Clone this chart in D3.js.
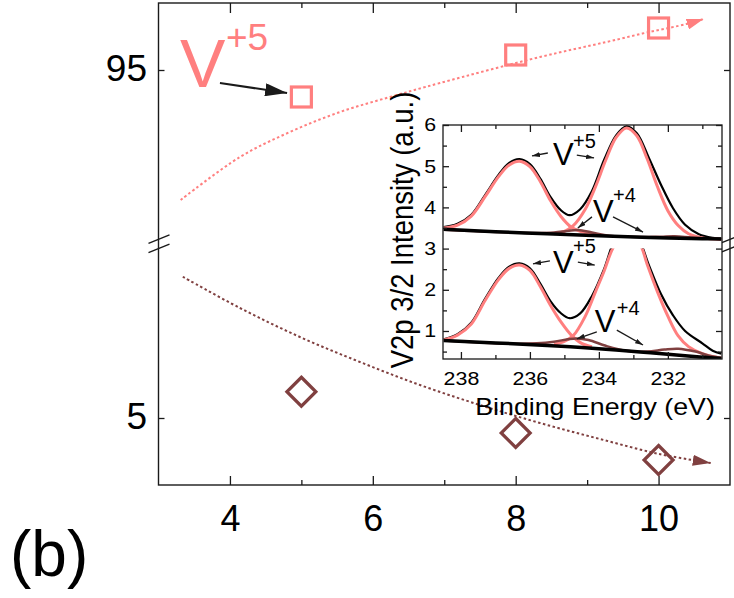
<!DOCTYPE html>
<html>
<head>
<meta charset="utf-8">
<script src="https://d3js.org/d3.v7.min.js"></script>
<style>
  body { margin: 0; background: #fff; }
  svg { display: block; font-family: "Liberation Sans", Arial, sans-serif; }
</style>
</head>
<body>
<svg id="chart" width="734" height="598"></svg>
<script>
// main panel: share of each vanadium state (%) for the three samples
const sampleX = [5, 8, 10];
const v5Share = [93.92, 95.6, 96.68];
const v4Share = [6.05, 4.4, 3.32];
const xMajorTicks = [4, 6, 8, 10];
const xMinorTicks = [5, 7, 9];
const v5Trend = [[3.31, 89.8], [4.14, 91.52], [4.84, 92.52], [5.54, 93.32], [6.24, 93.92], [6.94, 94.48],
  [8.34, 95.52], [9.27, 96.12], [9.87, 96.52], [10.39, 96.84], [10.63, 97.04]];
const v4Trend = [[3.34, 10.65], [4.14, 9.4], [4.98, 8.24], [5.82, 7.24], [6.66, 6.32], [7.5, 5.52],
  [8.34, 4.8], [9.18, 4.16], [10.01, 3.56], [10.73, 3.2]];

// inset: V2p 3/2 spectra (binding energy eV, intensity a.u.), upper one offset
const insetXTicks = [238, 236, 234, 232];
const insetYTicks = [1, 2, 3, 4, 5, 6];
const upperSum = [[238.5, 3.52], [238.1, 3.6], [237.7, 3.82], [237.3, 4.3], [236.9, 4.8], [236.6, 5.08], [236.3, 5.17],
  [236.0, 5.05], [235.7, 4.7], [235.4, 4.25], [235.1, 3.93], [234.85, 3.81], [234.55, 3.95], [234.2, 4.4],
  [233.85, 5.15], [233.5, 5.75], [233.2, 5.97], [232.9, 5.8], [232.55, 5.2], [232.2, 4.55], [231.85, 3.98],
  [231.5, 3.58], [231.1, 3.35], [230.7, 3.26], [230.45, 3.24]];
const upperV5a = [[238.5, 3.5], [238.1, 3.57], [237.7, 3.79], [237.3, 4.26], [236.9, 4.76], [236.6, 5.03], [236.3, 5.12],
  [236.0, 4.99], [235.7, 4.63], [235.4, 4.16], [235.1, 3.78], [234.8, 3.52], [234.5, 3.41], [234.2, 3.36]];
const upperV5b = [[235.3, 3.36], [235.0, 3.42], [234.75, 3.55], [234.4, 3.95], [234.1, 4.5], [233.8, 5.15],
  [233.5, 5.7], [233.2, 5.93], [232.9, 5.74], [232.6, 5.18], [232.3, 4.5], [232.0, 3.92], [231.7, 3.56],
  [231.4, 3.36], [231.0, 3.26], [230.45, 3.22]];
const upperV4 = [[238.5, 3.46], [236.0, 3.38], [235.3, 3.39], [234.9, 3.43], [234.6, 3.45], [234.2, 3.39],
  [233.7, 3.31], [232.8, 3.28], [232.2, 3.29], [231.8, 3.3], [231.3, 3.27], [230.45, 3.23]];
const upperBase = [[238.5, 3.47], [237.0, 3.41], [235.5, 3.36], [234.0, 3.31], [232.5, 3.27], [231.0, 3.24], [230.45, 3.23]];

const lowerSum = [[238.5, 0.8], [238.1, 0.92], [237.7, 1.2], [237.3, 1.78], [236.9, 2.3], [236.6, 2.56], [236.3, 2.64],
  [236.0, 2.52], [235.7, 2.15], [235.4, 1.72], [235.1, 1.43], [234.85, 1.31], [234.55, 1.42], [234.2, 1.85],
  [233.85, 2.5], [233.55, 3.2], [233.2, 3.6], [232.85, 3.25], [232.55, 2.6], [232.2, 1.9], [231.85, 1.38],
  [231.5, 1.0], [231.0, 0.7], [230.7, 0.52], [230.45, 0.45]];
const lowerV5a = [[238.5, 0.78], [238.1, 0.9], [237.7, 1.17], [237.3, 1.74], [236.9, 2.26], [236.6, 2.52], [236.3, 2.6],
  [236.0, 2.47], [235.7, 2.08], [235.4, 1.62], [235.1, 1.22], [234.8, 0.9], [234.5, 0.7], [234.2, 0.62]];
const lowerV5b = [[235.3, 0.68], [235.0, 0.75], [234.75, 0.88], [234.4, 1.35], [234.1, 1.95], [233.85, 2.45],
  [233.6, 3.0], [233.2, 3.5], [232.8, 3.1], [232.6, 2.62], [232.3, 1.95], [232.0, 1.36], [231.7, 0.88],
  [231.4, 0.62], [231.0, 0.45], [230.45, 0.34]];
const lowerV4 = [[238.5, 0.77], [236.5, 0.69], [235.8, 0.7], [235.3, 0.74], [234.9, 0.8], [234.65, 0.82], [234.3, 0.78],
  [233.8, 0.64], [233.2, 0.52], [232.6, 0.5], [232.1, 0.55], [231.7, 0.57], [231.2, 0.5], [230.8, 0.4], [230.45, 0.35]];
const lowerBase = [[238.5, 0.77], [237.0, 0.71], [235.5, 0.65], [234.5, 0.6], [233.5, 0.54], [232.5, 0.47], [231.5, 0.4], [230.45, 0.33]];

// labels on the inset peaks, in data units: text spot, superscript spot, arrows [from, to]
const insetNotes = [
  { sup: '+5', at: [235.33, 5.03], supAt: [234.75, 5.44], arrows: [[[235.48, 5.32], [235.94, 5.25]], [[234.64, 5.27], [234.14, 5.2]]] },
  { sup: '+4', at: [234.17, 3.65], supAt: [233.59, 4.13], arrows: [[[234.2, 3.77], [234.61, 3.5]], [[233.59, 3.77], [232.72, 3.4]]] },
  { sup: '+5', at: [235.33, 2.41], supAt: [234.75, 2.89], arrows: [[[235.42, 2.7], [235.91, 2.63]], [[234.61, 2.67], [234.12, 2.6]]] },
  { sup: '+4', at: [234.12, 0.98], supAt: [233.48, 1.39], arrows: [[[234.06, 0.98], [234.64, 0.81]], [[233.48, 1.02], [232.72, 0.66]]] }
];

const pink = '#ff7f7f';
const brown = '#804040';
const ink = '#1a1a1a';

const svg = d3.select('#chart');
const plot = { left: 158.5, right: 730, top: 3, bottom: 485, hiBottom: 240, loTop: 248 };

const x = d3.scaleLinear().domain([3, 11]).range([plot.left, plot.right]);
const yHi = d3.scaleLinear().domain([88.2, 97.68]).range([plot.hiBottom, plot.top]);
const yLo = d3.scaleLinear().domain([2.32, 11.8]).range([plot.bottom, plot.loTop]);

const defs = svg.append('defs');
function arrowMarker(id, color, len, wid) {
  defs.append('marker')
    .attr('id', id)
    .attr('viewBox', `0 0 ${len} ${wid}`)
    .attr('refX', len)
    .attr('refY', wid / 2)
    .attr('markerWidth', len)
    .attr('markerHeight', wid)
    .attr('markerUnits', 'userSpaceOnUse')
    .attr('orient', 'auto')
  .append('path')
    .attr('d', `M0,0L${len},${wid / 2}L0,${wid}Z`)
    .attr('fill', color);
}
arrowMarker('head-pink', pink, 17, 11);
arrowMarker('head-brown', brown, 18, 11);
arrowMarker('head-big', ink, 22, 13);
arrowMarker('head-small', ink, 8, 5);

// frame
svg.append('rect')
  .attr('x', plot.left).attr('y', plot.top)
  .attr('width', plot.right - plot.left).attr('height', plot.bottom - plot.top)
  .attr('fill', 'none').attr('stroke', ink).attr('stroke-width', 1.4);

function styleAxis(g, size) {
  g.select('.domain').remove();
  g.selectAll('.tick line').attr('stroke', ink).attr('stroke-width', 1.3);
  g.attr('font-size', size).attr('font-family', '"Liberation Sans", Arial, sans-serif');
  g.selectAll('text').attr('fill', '#000');
}

// x axes, ticks pointing inward
svg.append('g')
  .attr('transform', `translate(0,${plot.bottom})`)
  .call(d3.axisBottom(x).tickValues(xMajorTicks).tickSize(-9).tickPadding(20).tickFormat(d3.format('d')))
  .call(styleAxis, 36);
svg.append('g')
  .attr('transform', `translate(0,${plot.bottom})`)
  .call(d3.axisBottom(x).tickValues(xMinorTicks).tickSize(-5).tickFormat(''))
  .call(styleAxis, 10);
svg.append('g')
  .attr('transform', `translate(0,${plot.top})`)
  .call(d3.axisTop(x).tickValues(xMajorTicks).tickSize(-10).tickFormat(''))
  .call(styleAxis, 10);
svg.append('g')
  .attr('transform', `translate(0,${plot.top})`)
  .call(d3.axisTop(x).tickValues(xMinorTicks).tickSize(-5).tickFormat(''))
  .call(styleAxis, 10);

// broken y axis
[[yHi, [95]], [yLo, [5]]].forEach(([scale, ticks]) => {
  svg.append('g')
    .attr('transform', `translate(${plot.left},0)`)
    .call(d3.axisLeft(scale).tickValues(ticks).tickSize(-6).tickPadding(11.5))
    .call(styleAxis, 37)
    .selectAll('text').attr('dy', '0.28em');
  svg.append('g')
    .attr('transform', `translate(${plot.right},0)`)
    .call(d3.axisRight(scale).tickValues(ticks).tickSize(-6).tickFormat(''))
    .call(styleAxis, 10);
});

const breakY = (plot.hiBottom + plot.loTop) / 2;
[plot.left, plot.right].forEach((bx) => {
  [-0.7, 8.7].forEach((off) => {
    svg.append('line')
      .attr('x1', bx - 10).attr('y1', breakY + off)
      .attr('x2', bx + 11).attr('y2', breakY + off - 8.5)
      .attr('stroke', ink).attr('stroke-width', 1.4);
  });
});

// trend lines
const lineHi = d3.line().x((d) => x(d[0])).y((d) => yHi(d[1])).curve(d3.curveCatmullRom.alpha(0.5));
const lineLo = d3.line().x((d) => x(d[0])).y((d) => yLo(d[1])).curve(d3.curveCatmullRom.alpha(0.5));

svg.append('path')
  .datum(v5Trend)
  .attr('d', lineHi)
  .attr('fill', 'none')
  .attr('stroke', pink)
  .attr('stroke-width', 2)
  .attr('stroke-dasharray', '2.5,2.5')
  .attr('marker-end', 'url(#head-pink)');

svg.append('path')
  .datum(v4Trend)
  .attr('d', lineLo)
  .attr('fill', 'none')
  .attr('stroke', brown)
  .attr('stroke-width', 2)
  .attr('stroke-dasharray', '2.5,2.5')
  .attr('marker-end', 'url(#head-brown)');

// points
svg.append('g').selectAll('rect')
  .data(sampleX.map((d, i) => [d, v5Share[i]]))
  .join('rect')
    .attr('x', (d) => x(d[0]) - 10)
    .attr('y', (d) => yHi(d[1]) - 10)
    .attr('width', 20)
    .attr('height', 20)
    .attr('fill', 'none')
    .attr('stroke', pink)
    .attr('stroke-width', 3.2);

svg.append('g').selectAll('path')
  .data(sampleX.map((d, i) => [d, v4Share[i]]))
  .join('path')
    .attr('d', (d) => {
      const cx = x(d[0]), cy = yLo(d[1]), r = 14.5;
      return `M${cx},${cy - r}L${cx + r},${cy}L${cx},${cy + r}L${cx - r},${cy}Z`;
    })
    .attr('fill', 'none')
    .attr('stroke', brown)
    .attr('stroke-width', 3.2);

// V+5 label with arrow to the first point
svg.append('text')
  .attr('x', 180).attr('y', 87)
  .attr('font-size', 68).attr('fill', pink)
  .text('V');
svg.append('text')
  .attr('x', 226).attr('y', 50)
  .attr('font-size', 37).attr('fill', pink)
  .text('+5');
svg.append('line')
  .attr('x1', x(3.86)).attr('y1', yHi(94.48))
  .attr('x2', x(4.8)).attr('y2', yHi(94.08))
  .attr('stroke', ink).attr('stroke-width', 2)
  .attr('marker-end', 'url(#head-big)');

svg.append('text')
  .attr('x', 10).attr('y', 576)
  .attr('font-size', 64)
  .text('(b)');

// ---------- inset ----------
const inset = { left: 443, right: 722, top: 125, bottom: 359 };
const ix = d3.scaleLinear().domain([238.52, 230.43]).range([inset.left, inset.right]);
const iy = d3.scaleLinear().domain([0.32, 6]).range([inset.bottom, inset.top]);
const stretch = 'scale(1.15,1)';

const ig = svg.append('g');
ig.append('rect')
  .attr('x', inset.left).attr('y', inset.top)
  .attr('width', inset.right - inset.left).attr('height', inset.bottom - inset.top)
  .attr('fill', '#fff');

defs.append('clipPath').attr('id', 'clip-inset')
  .append('rect')
    .attr('x', inset.left).attr('y', inset.top)
    .attr('width', inset.right - inset.left).attr('height', inset.bottom - inset.top);
defs.append('clipPath').attr('id', 'clip-lower')
  .append('rect')
    .attr('x', inset.left).attr('y', iy(3.0))
    .attr('width', inset.right - inset.left).attr('height', inset.bottom - iy(3.0));

const spec = d3.line().x((d) => ix(d[0])).y((d) => iy(d[1])).curve(d3.curveCatmullRom.alpha(0.5));

function drawSpectrum(parent, sum, peaks, v4, base) {
  parent.append('path').datum(sum).attr('d', spec)
    .attr('fill', 'none').attr('stroke', '#000').attr('stroke-width', 2.2);
  peaks.forEach((p) => {
    parent.append('path').datum(p).attr('d', spec)
      .attr('fill', 'none').attr('stroke', pink).attr('stroke-width', 3);
  });
  parent.append('path').datum(v4).attr('d', spec)
    .attr('fill', 'none').attr('stroke', brown).attr('stroke-width', 2.5);
  parent.append('path').datum(base).attr('d', spec)
    .attr('fill', 'none').attr('stroke', '#000').attr('stroke-width', 3.5);
}

const upperG = ig.append('g').attr('clip-path', 'url(#clip-inset)');
drawSpectrum(upperG, upperSum, [upperV5a, upperV5b], upperV4, upperBase);
const lowerG = ig.append('g').attr('clip-path', 'url(#clip-lower)');
drawSpectrum(lowerG, lowerSum, [lowerV5a, lowerV5b], lowerV4, lowerBase);

ig.append('rect')
  .attr('x', inset.left).attr('y', inset.top)
  .attr('width', inset.right - inset.left).attr('height', inset.bottom - inset.top)
  .attr('fill', 'none').attr('stroke', ink).attr('stroke-width', 1.3);

const xMinorInset = [237, 235, 233, 231];
const yMinorInset = [0.5, 1.5, 2.5, 3.5, 4.5, 5.5];

ig.append('g')
  .attr('transform', `translate(0,${inset.bottom})`)
  .call(d3.axisBottom(ix).tickValues(insetXTicks).tickSize(-7).tickPadding(13).tickFormat(d3.format('d')))
  .call(styleAxis, 18.6)
  .selectAll('text').attr('transform', stretch);
ig.append('g')
  .attr('transform', `translate(0,${inset.bottom})`)
  .call(d3.axisBottom(ix).tickValues(xMinorInset).tickSize(-4).tickFormat(''))
  .call(styleAxis, 10);
ig.append('g')
  .attr('transform', `translate(0,${inset.top})`)
  .call(d3.axisTop(ix).tickValues(insetXTicks).tickSize(-7).tickFormat(''))
  .call(styleAxis, 10);
ig.append('g')
  .attr('transform', `translate(0,${inset.top})`)
  .call(d3.axisTop(ix).tickValues(xMinorInset).tickSize(-4).tickFormat(''))
  .call(styleAxis, 10);

ig.append('g')
  .attr('transform', `translate(${inset.left},0)`)
  .call(d3.axisLeft(iy).tickValues(insetYTicks).tickSize(-6).tickPadding(6).tickFormat(d3.format('d')))
  .call(styleAxis, 18.6)
  .selectAll('text').attr('transform', stretch);
ig.append('g')
  .attr('transform', `translate(${inset.left},0)`)
  .call(d3.axisLeft(iy).tickValues(yMinorInset).tickSize(-4).tickFormat(''))
  .call(styleAxis, 10);
ig.append('g')
  .attr('transform', `translate(${inset.right},0)`)
  .call(d3.axisRight(iy).tickValues(insetYTicks).tickSize(-6).tickFormat(''))
  .call(styleAxis, 10);
ig.append('g')
  .attr('transform', `translate(${inset.right},0)`)
  .call(d3.axisRight(iy).tickValues(yMinorInset).tickSize(-4).tickFormat(''))
  .call(styleAxis, 10);

ig.append('text')
  .attr('transform', `translate(595,415) ${stretch}`)
  .attr('text-anchor', 'middle')
  .attr('font-size', 23.3)
  .text('Binding Energy (eV)');
ig.append('text')
  .attr('transform', `translate(413,230) ${stretch} rotate(-90)`)
  .attr('text-anchor', 'middle')
  .attr('font-size', 27.5)
  .text('V2p 3/2 Intensity (a.u.)');

insetNotes.forEach((n) => {
  ig.append('text')
    .attr('x', ix(n.at[0])).attr('y', iy(n.at[1]))
    .attr('font-size', 31)
    .text('V');
  ig.append('text')
    .attr('x', ix(n.supAt[0])).attr('y', iy(n.supAt[1]))
    .attr('font-size', 20)
    .text(n.sup);
  n.arrows.forEach(([from, to]) => {
    ig.append('line')
      .attr('x1', ix(from[0])).attr('y1', iy(from[1]))
      .attr('x2', ix(to[0])).attr('y2', iy(to[1]))
      .attr('stroke', ink).attr('stroke-width', 1.3)
      .attr('marker-end', 'url(#head-small)');
  });
});
</script>
</body>
</html>
